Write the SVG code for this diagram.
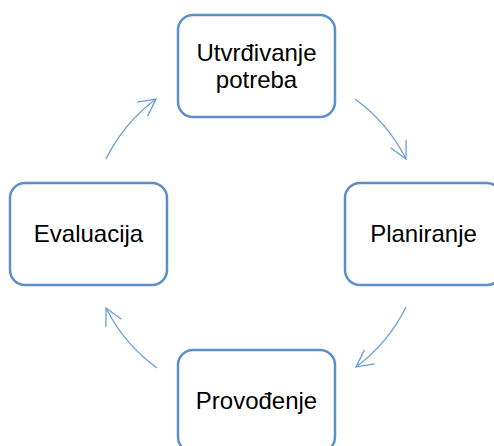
<svg xmlns="http://www.w3.org/2000/svg" width="494" height="446" viewBox="0 0 494 446">
<style>
.box{fill:#fff;stroke:#5b8fc9;stroke-width:2.5}
.lbl{font-family:"Liberation Sans",Arial,sans-serif;font-size:24px;fill:#000;text-anchor:middle}
.arc{fill:none;stroke:#6a9fd9;stroke-width:1.3}
</style>
<defs>
<marker id="ah" viewBox="-20 -12 22 24" refX="0" refY="0" markerWidth="22" markerHeight="24" markerUnits="userSpaceOnUse" orient="auto">
<path d="M-17,-8.7 L0,0 L-17,8.7" fill="none" stroke="#6a9fd9" stroke-width="1.3"/>
</marker>
</defs>
<rect width="494" height="446" fill="#fff"/>
<g id="connectors">
<path class="arc" d="M106,159 A167,167 0 0 1 156,99" marker-end="url(#ah)"/>
<path class="arc" d="M355,99 A167,167 0 0 1 406,159" marker-end="url(#ah)"/>
<path class="arc" d="M406,307 A167,167 0 0 1 356,367" marker-end="url(#ah)"/>
<path class="arc" d="M157,368 A167,167 0 0 1 106,308" marker-end="url(#ah)"/>
</g>
<g id="node-utvrdivanje">
<rect class="box" x="178" y="15" width="157" height="102" rx="15"/>
<text class="lbl" x="256.5" y="61">Utvrđivanje</text>
<text class="lbl" x="256.5" y="88">potreba</text>
</g>
<g id="node-planiranje">
<rect class="box" x="345" y="183" width="157" height="102" rx="15"/>
<text class="lbl" x="423.5" y="242">Planiranje</text>
</g>
<g id="node-provodenje">
<rect class="box" x="178" y="350" width="157" height="102" rx="15"/>
<text class="lbl" x="256.5" y="409">Provođenje</text>
</g>
<g id="node-evaluacija">
<rect class="box" x="10" y="183" width="157" height="102" rx="15"/>
<text class="lbl" x="88.5" y="242">Evaluacija</text>
</g>
</svg>
